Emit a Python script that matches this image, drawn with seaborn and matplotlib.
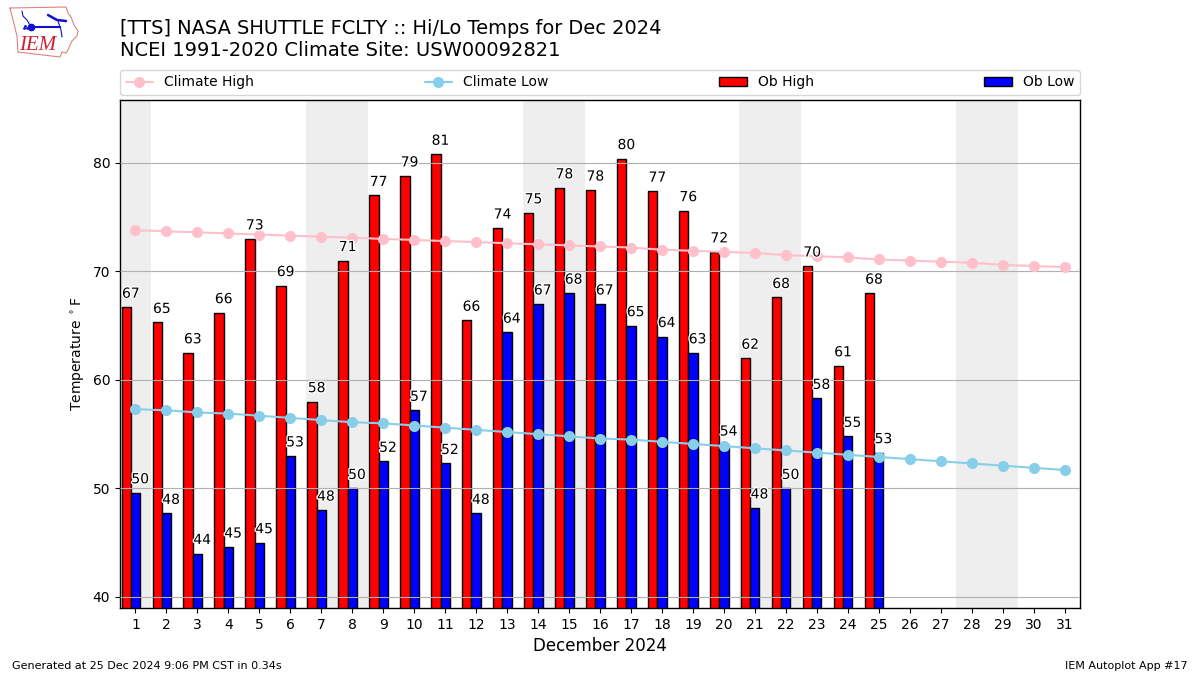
import numpy as np
import pandas as pd
import matplotlib
matplotlib.use("Agg")
import matplotlib.pyplot as plt
import matplotlib.patheffects as pe
from matplotlib.patches import Patch
import seaborn as sns

days = list(range(1, 32))
ob_days = list(range(1, 26))

ob_high = [66.7, 65.3, 62.5, 66.2, 73.0, 68.7, 58.0, 71.0, 77.0, 78.8, 80.8, 65.5, 74.0,
           75.4, 77.7, 77.5, 80.4, 77.4, 75.6, 71.8, 62.0, 67.6, 70.5, 61.3, 68.0]
ob_low = [49.6, 47.7, 44.0, 44.6, 45.0, 53.0, 48.0, 50.0, 52.5, 57.2, 52.3, 47.7, 64.4,
          67.0, 68.0, 67.0, 65.0, 64.0, 62.5, 54.0, 48.2, 50.0, 58.3, 54.8, 53.3]
high_labels = [67, 65, 63, 66, 73, 69, 58, 71, 77, 79, 81, 66, 74,
               75, 78, 78, 80, 77, 76, 72, 62, 68, 70, 61, 68]
low_labels = [50, 48, 44, 45, 45, 53, 48, 50, 52, 57, 52, 48, 64,
              67, 68, 67, 65, 64, 63, 54, 48, 50, 58, 55, 53]
climate_high = [73.8, 73.7, 73.6, 73.5, 73.4, 73.3, 73.2, 73.1, 73.0, 72.9, 72.8, 72.7, 72.6, 72.5, 72.4, 72.3,
                72.2, 72.0, 71.9, 71.8, 71.7, 71.5, 71.4, 71.3, 71.1, 71.0, 70.9, 70.8, 70.6, 70.5, 70.4]
climate_low = [57.3, 57.2, 57.0, 56.9, 56.7, 56.5, 56.3, 56.1, 56.0, 55.8, 55.6, 55.4, 55.2, 55.0, 54.8, 54.6,
               54.5, 54.3, 54.1, 53.9, 53.7, 53.5, 53.3, 53.1, 52.9, 52.7, 52.5, 52.3, 52.1, 51.9, 51.7]
weekends = [(0.5, 1.5), (6.5, 8.5), (13.5, 15.5), (20.5, 22.5), (27.5, 29.5)]

sns.set_style("ticks")
plt.rcParams["font.family"] = ["DejaVu Sans"]
plt.rcParams["text.color"] = "black"
plt.rcParams["axes.labelcolor"] = "black"
plt.rcParams["xtick.color"] = "black"
plt.rcParams["ytick.color"] = "black"

fig = plt.figure(figsize=(12, 6.75), dpi=100)
ax = fig.add_axes([120 / 1200, 1 - 608 / 675, 960 / 1200, 508 / 675])

#weekend shading
for start, end in weekends:
    ax.axvspan(start, end, color="#eeeeee", lw=0, zorder=0)

df_ob = pd.DataFrame({"day": ob_days, "high": ob_high, "low": ob_low})
df_clim = pd.DataFrame({"day": days, "high": climate_high, "low": climate_low})

bar_w = 0.3
sns.barplot(x=df_ob["day"] - 0.3, y=df_ob["high"], native_scale=True, width=bar_w, color="red",
            saturation=1, edgecolor="black", linewidth=1, ax=ax, zorder=2)
sns.barplot(x=df_ob["day"] + 0.0, y=df_ob["low"], native_scale=True, width=bar_w, color="blue",
            saturation=1, edgecolor="black", linewidth=1, ax=ax, zorder=2)

ax.grid(axis="y", color="#b0b0b0", lw=0.8, zorder=3)
ax.set_axisbelow(False)

sns.lineplot(data=df_clim, x="day", y="high", color="pink", marker="o", markersize=8, lw=1.5,
             markeredgewidth=0, errorbar=None, ax=ax, zorder=4, label="Climate High")
line_high = ax.lines[-1]
sns.lineplot(data=df_clim, x="day", y="low", color="skyblue", marker="o", markersize=8, lw=1.5,
             markeredgewidth=0, errorbar=None, ax=ax, zorder=4, label="Climate Low")
line_low = ax.lines[-1]

stroke = [pe.withStroke(linewidth=2, foreground="white")]
for d, val, lab in zip(ob_days, ob_high, high_labels):
    ax.text(d - 0.15, val + 0.6, str(lab), ha="center", va="bottom", fontsize=10,
            path_effects=stroke, zorder=5)
for d, val, lab in zip(ob_days, ob_low, low_labels):
    ax.text(d + 0.15, val + 0.6, str(lab), ha="center", va="bottom", fontsize=10,
            path_effects=stroke, zorder=5)

ax.set_xlim(0.5, 31.5)
ax.set_ylim(38.98, 85.8)
ax.set_xticks(days)
ax.set_xticklabels([str(d) for d in days])
ax.set_yticks([40, 50, 60, 70, 80])
ax.tick_params(labelsize=10, length=3.5, width=0.8)
for side in ax.spines.values():
    side.set_visible(True)
    side.set_color("black")
    side.set_linewidth(1)
ax.set_xlabel("December 2024", fontsize=12)
ax.set_ylabel("Temperature $^\\circ$F", fontsize=10)

handles = [line_high, line_low,
           Patch(facecolor="red", edgecolor="black", lw=1),
           Patch(facecolor="blue", edgecolor="black", lw=1)]
ax.legend(handles, ["Climate High", "Climate Low", "Ob High", "Ob Low"], ncol=4, mode="expand",
          loc="lower left", bbox_to_anchor=(0, 1.01, 1, 0.05), borderaxespad=0, fontsize=10)

fig.text(120 / 1200, 1 - 29 / 675, "[TTS] NASA SHUTTLE FCLTY :: Hi/Lo Temps for Dec 2024",
         fontsize=13.98, va="center", ha="left")
fig.text(120 / 1200, 1 - 50 / 675, "NCEI 1991-2020 Climate Site: USW00092821",
         fontsize=14, va="center", ha="left")
fig.text(12 / 1200, 1 - 666 / 675, "Generated at 25 Dec 2024 9:06 PM CST in 0.34s",
         fontsize=8, va="center", ha="left")
fig.text(1188 / 1200, 1 - 666 / 675, "IEM Autoplot App #17",
         fontsize=8, va="center", ha="right")

#rough IEM logo, drawn in pixel coordinates of the figure
logo = fig.add_axes([0, 1 - 60 / 675, 80 / 1200, 60 / 675])
logo.set_xlim(0, 80)
logo.set_ylim(60, 0)
logo.axis("off")
outline_x = [10, 66, 68, 71, 74, 78, 77, 72, 70, 68, 66, 62, 60, 18, 17, 13, 10]
outline_y = [8, 7, 13, 17, 25, 31, 36, 41, 45, 50, 53, 52, 57, 52, 36, 20, 8]
logo.plot(outline_x, outline_y, color="#e08080", lw=0.8)
logo.plot([31, 60], [27, 27], color="#1010d0", lw=1.5)
logo.plot([31], [27], "o", color="#1010d0", ms=4.5)
logo.plot([48, 57, 66], [15, 20, 21], color="#1010d0", lw=1.8)
logo.plot([22, 23, 27, 31], [11, 16, 20, 27], color="#1010d0", lw=0.8)
logo.plot([58, 61, 62], [21, 30, 37], color="#1010d0", lw=0.8)
logo.plot([24, 25, 27], [28, 26, 28], ls="", marker=".", ms=2, color="#1010d0")
logo.text(37.5, 45, "IEM", color="#d02030", fontsize=15, family="Liberation Serif", style="italic",
          ha="center", va="center")

fig.savefig("out.png", dpi=100)
